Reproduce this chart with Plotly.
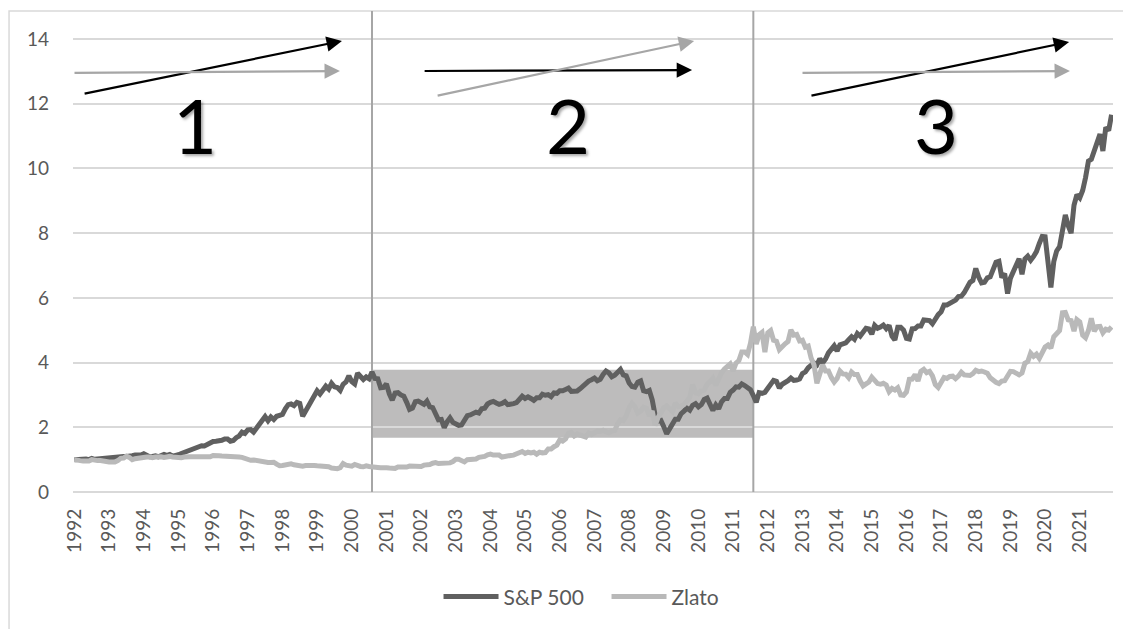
import plotly.graph_objects as go

# Monthly index values (Jan 1992 = 1), Jan 1992 .. Dec 2021
sp500 = [
    1.00, 1.01, 0.99, 1.01, 1.02, 1.00, 1.04, 1.01, 1.02, 1.02, 1.06, 1.07,  # 1992
    1.07, 1.08, 1.10, 1.08, 1.10, 1.10, 1.10, 1.13, 1.12, 1.14, 1.13, 1.14,  # 1993
    1.18, 1.14, 1.09, 1.10, 1.12, 1.09, 1.12, 1.16, 1.13, 1.16, 1.11, 1.12,  # 1994
    1.15, 1.19, 1.22, 1.26, 1.30, 1.33, 1.38, 1.37, 1.43, 1.42, 1.48, 1.51,  # 1995
    1.56, 1.57, 1.58, 1.60, 1.64, 1.64, 1.57, 1.59, 1.68, 1.73, 1.85, 1.81,  # 1996
    1.92, 1.93, 1.85, 1.96, 2.08, 2.17, 2.33, 2.20, 2.32, 2.24, 2.34, 2.37,  # 1997
    2.40, 2.57, 2.70, 2.72, 2.67, 2.77, 2.74, 2.34, 2.49, 2.69, 2.85, 3.01,  # 1998
    3.13, 3.03, 3.15, 3.27, 3.18, 3.36, 3.25, 3.23, 3.14, 3.33, 3.40, 3.59,  # 1999
    3.41, 3.34, 3.67, 3.55, 3.48, 3.56, 3.50, 3.71, 3.51, 3.50, 3.22, 3.23,  # 2000
    3.34, 3.03, 2.84, 3.06, 3.07, 3.00, 2.96, 2.77, 2.55, 2.59, 2.79, 2.81,  # 2001
    2.76, 2.71, 2.81, 2.63, 2.61, 2.42, 2.23, 2.24, 1.99, 2.17, 2.29, 2.15,  # 2002
    2.09, 2.06, 2.07, 2.24, 2.36, 2.38, 2.42, 2.47, 2.44, 2.57, 2.59, 2.72,  # 2003
    2.77, 2.80, 2.75, 2.71, 2.74, 2.79, 2.70, 2.70, 2.73, 2.76, 2.87, 2.96,  # 2004
    2.89, 2.94, 2.89, 2.83, 2.91, 2.91, 3.02, 2.99, 3.01, 2.95, 3.06, 3.05,  # 2005
    3.13, 3.13, 3.17, 3.21, 3.11, 3.11, 3.12, 3.19, 3.27, 3.37, 3.43, 3.47,  # 2006
    3.52, 3.44, 3.48, 3.63, 3.74, 3.68, 3.56, 3.61, 3.73, 3.79, 3.62, 3.59,  # 2007
    3.37, 3.26, 3.24, 3.39, 3.43, 3.13, 3.10, 3.14, 2.85, 2.37, 2.19, 2.21,  # 2008
    2.02, 1.80, 1.95, 2.14, 2.25, 2.25, 2.42, 2.50, 2.59, 2.53, 2.68, 2.73,  # 2009
    2.63, 2.70, 2.86, 2.90, 2.66, 2.52, 2.69, 2.57, 2.79, 2.89, 2.89, 3.08,  # 2010
    3.15, 3.25, 3.24, 3.34, 3.29, 3.23, 3.16, 2.98, 2.77, 3.07, 3.05, 3.08,  # 2011
    3.21, 3.34, 3.45, 3.42, 3.21, 3.33, 3.37, 3.44, 3.52, 3.45, 3.46, 3.49,  # 2012
    3.66, 3.71, 3.84, 3.91, 3.99, 3.93, 4.12, 3.99, 4.11, 4.30, 4.42, 4.52,  # 2013
    4.36, 4.55, 4.58, 4.61, 4.71, 4.80, 4.72, 4.90, 4.82, 4.94, 5.06, 5.04,  # 2014
    4.88, 5.15, 5.06, 5.10, 5.16, 5.05, 5.15, 4.82, 4.70, 5.09, 5.09, 5.00,  # 2015
    4.75, 4.73, 5.04, 5.05, 5.13, 5.13, 5.32, 5.31, 5.30, 5.20, 5.38, 5.48,  # 2016
    5.57, 5.78, 5.78, 5.83, 5.90, 5.93, 6.04, 6.05, 6.16, 6.30, 6.48, 6.54,  # 2017
    6.91, 6.64, 6.46, 6.48, 6.62, 6.65, 6.89, 7.10, 7.13, 6.63, 6.75, 6.13,  # 2018
    6.61, 6.81, 6.93, 7.21, 6.73, 7.20, 7.29, 7.16, 7.28, 7.43, 7.68, 7.90,  # 2019
    7.89, 7.23, 6.32, 7.12, 7.45, 7.58, 8.00, 8.56, 8.23, 8.00, 8.86, 9.19,  # 2020
    9.09, 9.32, 9.72, 10.23, 10.28, 10.51, 10.75, 11.06, 10.54, 11.27, 11.17, 11.66,  # 2021
]

zlato = [
    1.00, 1.00, 0.97, 0.96, 0.95, 0.96, 1.00, 0.97, 0.97, 0.97, 0.95, 0.94,  # 1992
    0.93, 0.93, 0.93, 0.97, 1.04, 1.05, 1.11, 1.07, 1.00, 1.03, 1.05, 1.08,  # 1993
    1.09, 1.08, 1.08, 1.06, 1.08, 1.09, 1.09, 1.07, 1.10, 1.10, 1.08, 1.07,  # 1994
    1.07, 1.06, 1.08, 1.10, 1.09, 1.09, 1.09, 1.08, 1.08, 1.08, 1.09, 1.09,  # 1995
    1.13, 1.14, 1.12, 1.11, 1.11, 1.09, 1.08, 1.09, 1.08, 1.08, 1.07, 1.04,  # 1996
    1.00, 0.98, 0.99, 0.97, 0.97, 0.96, 0.91, 0.91, 0.91, 0.92, 0.86, 0.81,  # 1997
    0.82, 0.84, 0.83, 0.87, 0.84, 0.82, 0.83, 0.80, 0.82, 0.83, 0.83, 0.82,  # 1998
    0.81, 0.81, 0.81, 0.80, 0.78, 0.74, 0.72, 0.72, 0.75, 0.88, 0.83, 0.80,  # 1999
    0.80, 0.85, 0.81, 0.79, 0.78, 0.81, 0.79, 0.77, 0.77, 0.76, 0.75, 0.77,  # 2000
    0.75, 0.74, 0.74, 0.73, 0.77, 0.76, 0.75, 0.77, 0.80, 0.80, 0.78, 0.78,  # 2001
    0.79, 0.83, 0.83, 0.85, 0.89, 0.91, 0.88, 0.88, 0.90, 0.89, 0.90, 0.94,  # 2002
    1.01, 1.01, 0.96, 0.93, 1.00, 1.01, 0.99, 1.02, 1.07, 1.07, 1.10, 1.15,  # 2003
    1.17, 1.14, 1.15, 1.14, 1.08, 1.11, 1.12, 1.13, 1.14, 1.19, 1.24, 1.25,  # 2004
    1.19, 1.23, 1.21, 1.23, 1.17, 1.23, 1.21, 1.22, 1.33, 1.33, 1.40, 1.45,  # 2005
    1.61, 1.57, 1.64, 1.82, 1.84, 1.73, 1.79, 1.76, 1.69, 1.70, 1.82, 1.78,  # 2006
    1.83, 1.88, 1.87, 1.91, 1.86, 1.83, 1.88, 1.90, 2.10, 2.23, 2.21, 2.35,  # 2007
    2.60, 2.74, 2.64, 2.44, 2.50, 2.62, 2.59, 2.35, 2.50, 2.06, 2.30, 2.45,  # 2008
    2.60, 2.66, 2.58, 2.49, 2.75, 2.64, 2.65, 2.70, 2.81, 2.93, 3.32, 3.07,  # 2009
    3.04, 3.13, 3.15, 3.33, 3.41, 3.51, 3.30, 3.52, 3.69, 3.80, 3.91, 3.96,  # 2010
    3.74, 3.98, 4.06, 4.33, 4.33, 4.25, 4.59, 5.11, 4.57, 4.86, 4.93, 4.32,  # 2011
    4.92, 4.99, 4.69, 4.66, 4.40, 4.51, 4.58, 4.65, 5.01, 4.85, 4.87, 4.67,  # 2012
    4.69, 4.48, 4.51, 4.14, 3.93, 3.36, 3.71, 3.93, 3.74, 3.74, 3.54, 3.40,  # 2013
    3.51, 3.74, 3.65, 3.64, 3.53, 3.71, 3.63, 3.63, 3.43, 3.28, 3.34, 3.40,  # 2014
    3.55, 3.43, 3.35, 3.33, 3.36, 3.31, 3.10, 3.20, 3.15, 3.22, 3.00, 2.99,  # 2015
    3.09, 3.48, 3.49, 3.63, 3.43, 3.73, 3.79, 3.69, 3.73, 3.59, 3.32, 3.23,  # 2016
    3.42, 3.54, 3.51, 3.57, 3.58, 3.50, 3.58, 3.70, 3.62, 3.59, 3.60, 3.66,  # 2017
    3.76, 3.72, 3.74, 3.71, 3.67, 3.53, 3.45, 3.39, 3.35, 3.43, 3.44, 3.61,  # 2018
    3.73, 3.72, 3.65, 3.62, 3.68, 3.98, 4.03, 4.29, 4.19, 4.26, 4.13, 4.27,  # 2019
    4.48, 4.54, 4.45, 4.80, 4.88, 4.99, 5.54, 5.55, 5.32, 5.30, 4.97, 5.33,  # 2020
    5.26, 4.85, 4.77, 4.99, 5.37, 4.97, 5.11, 5.12, 4.92, 5.03, 5.00, 5.10,  # 2021
]

years = [str(y) for y in range(1992, 2022)]
months = list(range(len(sp500)))          # month index, 0 = Jan 1992
year_ticks = months[::12]

# period boundaries (month index): Aug 2000 and Aug 2011
period_bounds = [103, 235]
band_low, band_high = 1.68, 3.78          # shaded range of S&P 500 in period 2

# trend arrows per period: (x_start, y_start, x_end, y_end, colour)
arrows = [
    (3, 12.30, 92.6, 13.94, "#000000"),
    (-0.5, 12.95, 91.9, 13.01, "#a6a6a6"),
    (120.7, 13.01, 213.8, 13.04, "#000000"),
    (125.2, 12.24, 214.5, 13.94, "#a6a6a6"),
    (254.6, 12.24, 344.3, 13.91, "#000000"),
    (251.5, 12.95, 344.6, 13.01, "#a6a6a6"),
]
period_labels = ["1", "2", "3"]
period_label_x = [41.6, 171.0, 298.2]
period_label_y = 11.37

FONT = "Lato, 'Open Sans', sans-serif"
YMAX = 14 * 481 / 453

fig = go.Figure()
fig.add_trace(go.Scatter(x=months, y=sp500, mode="lines", name="S&P 500",
                         line=dict(color="#606060", width=5)))
fig.add_trace(go.Scatter(x=months, y=zlato, mode="lines", name="Zlato",
                         line=dict(color="#b9b9b9", width=5)))

# shaded band
fig.add_shape(type="rect", xref="x", yref="y", x0=period_bounds[0], x1=period_bounds[1],
              y0=band_low, y1=band_high, fillcolor="#bdbcbc", line=dict(width=0),
              layer="below")
# vertical separators
for b in period_bounds:
    fig.add_shape(type="line", xref="x", yref="y", x0=b, x1=b, y0=0, y1=YMAX,
                  line=dict(color="#a6a6a6", width=2), layer="between")
# outer chart frame (left and top visible)
fig.add_shape(type="rect", xref="paper", yref="paper", x0=-0.0615, x1=1.05,
              y0=-0.4, y1=1.0, line=dict(color="#d9d9d9", width=1.5), layer="below")

for x0, y0, x1, y1, c in arrows:
    fig.add_annotation(x=x1, y=y1, ax=x0, ay=y0, xref="x", yref="y", axref="x", ayref="y",
                       text="", showarrow=True, arrowhead=2, arrowsize=1.4,
                       arrowwidth=2.2, arrowcolor=c, standoff=0)

for t, xx in zip(period_labels, period_label_x):
    fig.add_annotation(x=xx, y=period_label_y, xref="x", yref="y", text=t, showarrow=False,
                       xanchor="center", yanchor="middle",
                       font=dict(family=FONT, size=76, color="#000000",
                                 shadow="2px 2px 3px rgba(0,0,0,0.35)"))

fig.update_layout(
    width=1123, height=621,
    margin=dict(l=65, r=18, t=3, b=137, autoexpand=False),
    paper_bgcolor="white", plot_bgcolor="white",
    font=dict(family=FONT, size=19, color="#595959"),
    showlegend=True,
    legend=dict(orientation="h", x=0.513, xanchor="center", y=-0.218, yanchor="middle",
                font=dict(size=21, color="#595959"), itemwidth=55,
                entrywidth=98, entrywidthmode="pixels", tracegroupgap=0),
    xaxis=dict(range=[-0.5, len(sp500) - 0.5], tickmode="array", tickvals=year_ticks,
               ticktext=years, tickangle=-90, showgrid=False, zeroline=False,
               showline=False, ticks="", ticklabelstandoff=12, automargin=False,
               tickfont=dict(size=19, color="#595959")),
    yaxis=dict(range=[0, YMAX], tickmode="array", tickvals=list(range(0, 15, 2)),
               showgrid=True, gridcolor="#d9d9d9", gridwidth=1.5, zeroline=True,
               zerolinecolor="#d9d9d9", zerolinewidth=1.8, showline=False, ticks="",
               automargin=False, ticklabelstandoff=23,
               tickfont=dict(size=19, color="#595959")),
)

fig.write_html("out.html")
